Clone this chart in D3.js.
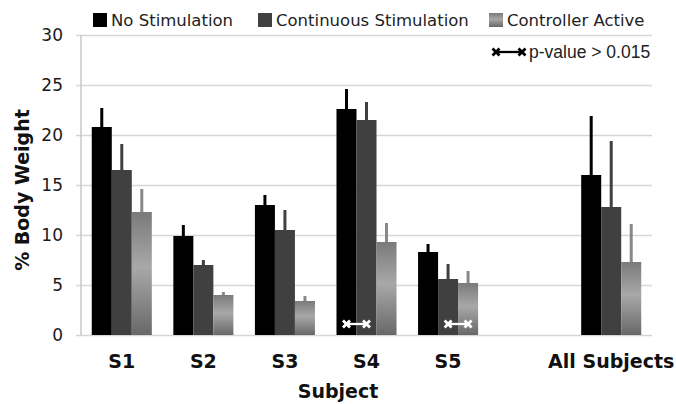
<!DOCTYPE html>
<html>
<head>
<meta charset="utf-8">
<script src="https://cdn.jsdelivr.net/npm/d3@7"></script>
<style>
  body { margin: 0; background: #fff; }
  text { font-family: "DejaVu Sans", Verdana, sans-serif; }
</style>
</head>
<body>
<div id="chart"></div>
<script>
// data
var subjects = ["S1", "S2", "S3", "S4", "S5", "All Subjects"];
var axisSlots = ["S1", "S2", "S3", "S4", "S5", "", "All Subjects"];
var seriesNames = ["No Stimulation", "Continuous Stimulation", "Controller Active"];
var noStim = [20.8, 9.9, 13.0, 22.6, 8.3, 16.0];
var noStimErr = [1.9, 1.1, 1.0, 2.0, 0.8, 5.9];
var contStim = [16.5, 7.0, 10.5, 21.5, 5.6, 12.8];
var contStimErr = [2.6, 0.5, 2.0, 1.8, 1.5, 6.6];
var ctrlActive = [12.3, 4.0, 3.4, 9.3, 5.2, 7.3];
var ctrlActiveErr = [2.3, 0.3, 0.5, 1.9, 1.2, 3.8];
var yTicks = [0, 5, 10, 15, 20, 25, 30];
// pairs with p-value > 0.015 (series index a to b)
var pMarks = [{subject: "S4", a: 0, b: 1}, {subject: "S5", a: 1, b: 2}];
var pLevel = 1.1;

var svgWidth = 676;
var svgHeight = 404;
var margin = {top: 35, right: 24, bottom: 69, left: 81};
var width = svgWidth - margin.left - margin.right;
var height = svgHeight - margin.top - margin.bottom;

var fills = ["#000000", "#404040", "url(#grayGrad)"];
var errColors = ["#000000", "#404040", "#888888"];

var svg = d3.select("#chart")
  .append("svg")
  .attr("width", svgWidth)
  .attr("height", svgHeight);

// gradient for the light gray bars
var grad = svg.append("defs").append("linearGradient")
  .attr("id", "grayGrad")
  .attr("x1", 0).attr("y1", 0).attr("x2", 0).attr("y2", 1);
grad.append("stop").attr("offset", "0%").attr("stop-color", "#7a7a7a");
grad.append("stop").attr("offset", "45%").attr("stop-color", "#a8a8a8");
grad.append("stop").attr("offset", "100%").attr("stop-color", "#686868");

var chartGroup = svg.append("g")
  .attr("transform", `translate(${margin.left}, ${margin.top})`);

var x = d3.scaleBand()
  .domain(axisSlots)
  .range([0, width])
  .paddingInner(0.264)
  .paddingOuter(0.132);

var xSub = d3.scaleBand()
  .domain(seriesNames)
  .range([0, x.bandwidth()]);

var y = d3.scaleLinear()
  .domain([0, 30])
  .range([height, 0]);

// gridlines + y labels
var leftAxis = d3.axisLeft(y)
  .tickValues(yTicks)
  .tickSize(-(width + 5))
  .tickPadding(13);

var yAxisG = chartGroup.append("g")
  .attr("transform", "translate(-5, 0)")
  .call(leftAxis);
yAxisG.select(".domain").remove();
yAxisG.selectAll("line")
  .attr("stroke", "#d6d6d6")
  .attr("stroke-width", 1.4);
yAxisG.selectAll("text")
  .attr("font-size", "17px")
  .attr("fill", "#1a1a1a")
  .style("font-family", "'DejaVu Sans', Verdana, sans-serif");

chartGroup.append("line")
  .attr("x1", 0).attr("x2", 0)
  .attr("y1", 0).attr("y2", height)
  .attr("stroke", "#c4c4c4")
  .attr("stroke-width", 1.4);

// x labels
var bottomAxis = d3.axisBottom(x).tickSize(0).tickPadding(20);
var xAxisG = chartGroup.append("g")
  .attr("transform", `translate(0, ${height})`)
  .call(bottomAxis);
xAxisG.select(".domain").remove();
xAxisG.selectAll("text")
  .attr("font-size", "19px")
  .attr("font-weight", "bold")
  .attr("fill", "#111")
  .style("font-family", "'DejaVu Sans', Verdana, sans-serif");

// flat table for bars
var series = [
  {values: noStim, errs: noStimErr},
  {values: contStim, errs: contStimErr},
  {values: ctrlActive, errs: ctrlActiveErr}
];
var rows = [];
subjects.forEach(function(s, i) {
  series.forEach(function(ser, j) {
    rows.push({subject: s, series: seriesNames[j], j: j, value: ser.values[i], err: ser.errs[i]});
  });
});

chartGroup.selectAll(".bar")
  .data(rows)
  .enter()
  .append("rect")
  .attr("class", "bar")
  .attr("x", d => x(d.subject) + xSub(d.series))
  .attr("y", d => y(d.value))
  .attr("width", xSub.bandwidth())
  .attr("height", d => height - y(d.value))
  .attr("fill", d => fills[d.j]);

chartGroup.selectAll(".err")
  .data(rows)
  .enter()
  .append("line")
  .attr("class", "err")
  .attr("x1", d => x(d.subject) + xSub(d.series) + xSub.bandwidth() / 2)
  .attr("x2", d => x(d.subject) + xSub(d.series) + xSub.bandwidth() / 2)
  .attr("y1", d => y(d.value))
  .attr("y2", d => y(d.value + d.err))
  .attr("stroke", d => errColors[d.j])
  .attr("stroke-width", 3);

// connector with x marks at both ends
function pMarker(g, x1, x2, yy, color, half, sw) {
  g.append("line")
    .attr("x1", x1).attr("x2", x2).attr("y1", yy).attr("y2", yy)
    .attr("stroke", color).attr("stroke-width", sw - 0.5);
  [x1, x2].forEach(function(cx) {
    g.append("path")
      .attr("d", `M${cx - half},${yy - half}L${cx + half},${yy + half}M${cx - half},${yy + half}L${cx + half},${yy - half}`)
      .attr("stroke", color).attr("stroke-width", sw).attr("fill", "none");
  });
}

pMarks.forEach(function(m) {
  var cx1 = x(m.subject) + xSub(seriesNames[m.a]) + xSub.bandwidth() / 2;
  var cx2 = x(m.subject) + xSub(seriesNames[m.b]) + xSub.bandwidth() / 2;
  pMarker(chartGroup, cx1, cx2, y(pLevel), "#ffffff", 3.5, 2.8);
});

// legend
var legendX = [93, 258, 489];
var legend = svg.append("g");
seriesNames.forEach(function(name, j) {
  legend.append("rect")
    .attr("x", legendX[j]).attr("y", 13)
    .attr("width", 14).attr("height", 14)
    .attr("fill", fills[j]);
  legend.append("text")
    .attr("x", legendX[j] + 18).attr("y", 26)
    .attr("font-size", "16.5px")
    .attr("fill", "#222")
    .text(name);
});

pMarker(legend, 496, 522, 52, "#000000", 3.5, 2.8);
legend.append("text")
  .attr("x", 529).attr("y", 58)
  .attr("font-size", "17.5px")
  .attr("fill", "#222")
  .style("font-family", "'Liberation Sans', Arial, sans-serif")
  .text("p-value > 0.015");

// axis titles
svg.append("text")
  .attr("transform", "translate(29, 190) rotate(-90)")
  .attr("text-anchor", "middle")
  .attr("font-size", "19px")
  .attr("font-weight", "bold")
  .attr("fill", "#111")
  .text("% Body Weight");

svg.append("text")
  .attr("x", 338).attr("y", 398)
  .attr("text-anchor", "middle")
  .attr("font-size", "19px")
  .attr("font-weight", "bold")
  .attr("fill", "#111")
  .text("Subject");
</script>
</body>
</html>
